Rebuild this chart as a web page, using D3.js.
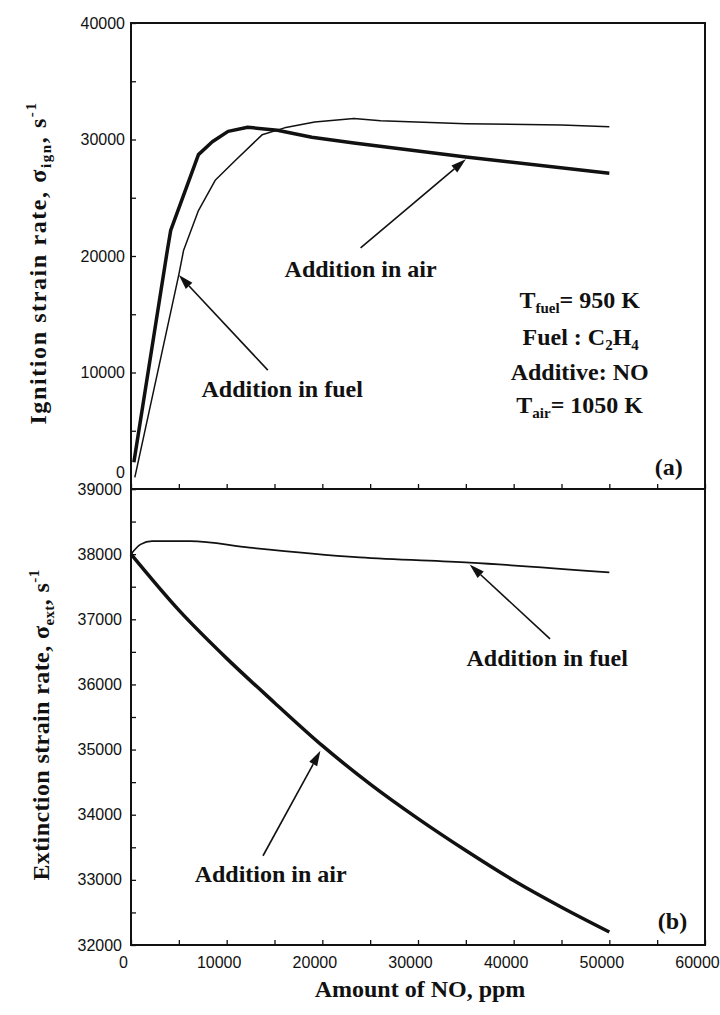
<!DOCTYPE html>
<html><head><meta charset="utf-8">
<script src="https://cdn.jsdelivr.net/npm/d3@7"></script>
<style>
html,body{margin:0;padding:0;background:#fff;}
svg{display:block;}
.tick text{font-family:"Liberation Sans",Arial,sans-serif;font-size:16px;fill:#111;}
.ann{font-family:"Liberation Serif","Times New Roman",serif;font-weight:bold;font-size:24px;fill:#111;}
</style></head>
<body>
<svg id="chart" width="720" height="1015"></svg>
<script>
// ---------------- data ----------------
// Panel (a): ignition strain rate vs NO amount
const topAirX  = [300, 3800, 4150, 7050, 8500, 10150, 12200, 15300, 18900, 23300, 35000, 50000];
const topAirY  = [2300, 20500, 22200, 28700, 29800, 30700, 31050, 30800, 30200, 29700, 28500, 27100];
const topFuelX = [400, 5000, 5500, 7050, 8800, 10900, 13700, 16050, 19200, 23300, 26100, 35000, 45000, 50000];
const topFuelY = [1000, 18400, 20500, 23900, 26500, 28200, 30400, 31000, 31500, 31800, 31600, 31350, 31250, 31100];
// Panel (b): extinction strain rate vs NO amount
const botFuelX = [0, 1000, 2200, 6200, 12400, 23900, 35400, 50000];
const botFuelY = [38000, 38150, 38200, 38200, 38100, 37950, 37870, 37720];
const botAirX  = [0, 5000, 10000, 15000, 20000, 25000, 30000, 35000, 40000, 45000, 50000];
const botAirY  = [38000, 37140, 36400, 35720, 35060, 34470, 33940, 33450, 32990, 32580, 32200];
// ticks
const xTicks      = [0, 10000, 20000, 30000, 40000, 50000, 60000];
const xMinorTicks = [5000, 15000, 25000, 35000, 45000, 55000];
const yTopTicks   = [0, 10000, 20000, 30000, 40000];
const yTopMinor   = [5000, 15000, 25000, 35000];
const yBotTicks   = [32000, 33000, 34000, 35000, 36000, 37000, 38000, 39000];
const yBotMinor   = [32500, 33500, 34500, 35500, 36500, 37500, 38500];

// ---------------- layout ----------------
const L = 131, R = 705, T = 23, MID = 489, B = 945;
const svg = d3.select("#chart");

const x = d3.scaleLinear().domain([0, 60000]).range([L, R]);
const yTop = d3.scaleLinear().domain([0, 40000]).range([MID, T]);
const yBot = d3.scaleLinear().domain([32000, 39000]).range([B, MID]);

function zip(xs, ys){ return xs.map((v,i)=>[v, ys[i]]); }

// axes
function leftAxis(scale, major, minor, pad){
  const all = major.concat(minor).sort((a,b)=>a-b);
  const g = svg.append("g").attr("transform", `translate(${L},0)`)
    .call(d3.axisLeft(scale).tickValues(all).tickSizeInner(-5).tickSizeOuter(0).tickPadding(pad)
      .tickFormat(d => major.includes(d) ? String(d) : ""));
  g.select(".domain").remove();
  g.selectAll(".tick line").attr("stroke", "#111").attr("stroke-width", 1.3);
  return g;
}
function bottomAxis(yPos, labels){
  const all = xTicks.concat(xMinorTicks).sort((a,b)=>a-b);
  const g = svg.append("g").attr("transform", `translate(0,${yPos})`)
    .call(d3.axisBottom(x).tickValues(all).tickSizeInner(-5).tickSizeOuter(0).tickPadding(12)
      .tickFormat(d => (labels && xTicks.includes(d)) ? String(d) : ""));
  g.select(".domain").remove();
  g.selectAll(".tick line").attr("stroke", "#111").attr("stroke-width", 1.3);
  g.selectAll(".tick text").attr("dx", -8);
  return g;
}

const gTopY = leftAxis(yTop, yTopTicks, yTopMinor, 6);
gTopY.selectAll(".tick text").filter(d => d === 0).attr("dy", "-0.7em");
leftAxis(yBot, yBotTicks, yBotMinor, 9);
bottomAxis(MID, false);
bottomAxis(B, true);

// frames
svg.append("rect").attr("x", L).attr("y", T).attr("width", R - L).attr("height", MID - T)
  .attr("fill", "none").attr("stroke", "#111").attr("stroke-width", 2);
svg.append("rect").attr("x", L).attr("y", MID).attr("width", R - L).attr("height", B - MID)
  .attr("fill", "none").attr("stroke", "#111").attr("stroke-width", 2);

// lines
const lineTop = d3.line().x(d => x(d[0])).y(d => yTop(d[1]));
const lineBot = d3.line().x(d => x(d[0])).y(d => yBot(d[1])).curve(d3.curveMonotoneX);

svg.append("path").attr("d", lineTop(zip(topFuelX, topFuelY)))
  .attr("fill", "none").attr("stroke", "#111").attr("stroke-width", 1.5).attr("stroke-linejoin", "round");
svg.append("path").attr("d", lineTop(zip(topAirX, topAirY)))
  .attr("fill", "none").attr("stroke", "#111").attr("stroke-width", 3.5).attr("stroke-linejoin", "round");
svg.append("path").attr("d", lineBot(zip(botFuelX, botFuelY)))
  .attr("fill", "none").attr("stroke", "#111").attr("stroke-width", 1.7).attr("stroke-linejoin", "round");
svg.append("path").attr("d", lineBot(zip(botAirX, botAirY)))
  .attr("fill", "none").attr("stroke", "#111").attr("stroke-width", 3.5).attr("stroke-linejoin", "round");

// arrows (annotation positions in data units)
function arrow(ys, tail, tip){
  const x1 = x(tail[0]), y1 = ys(tail[1]), x2 = x(tip[0]), y2 = ys(tip[1]);
  const a = Math.atan2(y2 - y1, x2 - x1), hl = 15, hw = 4.5;
  const bx = x2 - hl*Math.cos(a), by = y2 - hl*Math.sin(a);
  svg.append("line").attr("x1", x1).attr("y1", y1).attr("x2", bx).attr("y2", by)
    .attr("stroke", "#111").attr("stroke-width", 1.6);
  const p = [[x2, y2], [bx + hw*Math.sin(a), by - hw*Math.cos(a)], [bx - hw*Math.sin(a), by + hw*Math.cos(a)]];
  svg.append("polygon").attr("points", p.map(q => q.join(",")).join(" ")).attr("fill", "#111");
}
arrow(yTop, [24000, 20700], [35000, 28300]);
arrow(yTop, [14300, 10200], [5000, 18370]);
arrow(yBot, [43800, 36700], [35400, 37840]);
arrow(yBot, [13800, 33370], [19800, 34980]);

// annotation texts
function label(ys, pos, parts, anchor){
  const t = svg.append("text").attr("class", "ann")
    .attr("x", x(pos[0])).attr("y", ys(pos[1])).attr("text-anchor", anchor || "middle");
  parts.forEach(p => {
    const s = t.append("tspan").text(p.t);
    if (p.dy) s.attr("dy", p.dy);
    if (p.small) s.attr("font-size", 15);
  });
  return t;
}
label(yTop, [24000, 18200], [{t: "Addition in air"}]);
label(yTop, [15800, 7900], [{t: "Addition in fuel"}]);
label(yBot, [43500, 36280], [{t: "Addition in fuel"}]);
label(yBot, [14600, 32970], [{t: "Addition in air"}]);

label(yTop, [46900, 15540], [{t: "T"}, {t: "fuel", dy: 5, small: true}, {t: "= 950 K", dy: -5}]);
label(yTop, [47000, 12360], [{t: "Fuel : C"}, {t: "2", dy: 5, small: true}, {t: "H", dy: -5}, {t: "4", dy: 5, small: true}]);
label(yTop, [46900, 9360], [{t: "Additive: NO"}]);
label(yTop, [46900, 6520], [{t: "T"}, {t: "air", dy: 5, small: true}, {t: "= 1050 K", dy: -5}]);
label(yTop, [56200, 1200], [{t: "(a)"}]);
label(yBot, [56600, 32250], [{t: "(b)"}]);

// axis titles
svg.append("text").attr("class", "ann")
  .attr("x", 420).attr("y", 997).attr("text-anchor", "middle")
  .text("Amount of NO, ppm");

function yTitle(cx, cy, main, sub, ls){
  const t = svg.append("text").attr("class", "ann").attr("text-anchor", "middle")
    .attr("transform", `translate(${cx},${cy}) rotate(-90)`).attr("letter-spacing", ls);
  t.append("tspan").text(main + " \u03c3");
  t.append("tspan").attr("font-size", 15).attr("dy", 5).text(sub);
  t.append("tspan").attr("dy", -5).text(", s");
  t.append("tspan").attr("font-size", 15).attr("dy", -10).text("-1");
}
yTitle(46, 263, "Ignition strain rate,", "ign", 1.6);
yTitle(49, 725, "Extinction strain rate,", "ext", 0.4);
</script>
</body></html>
